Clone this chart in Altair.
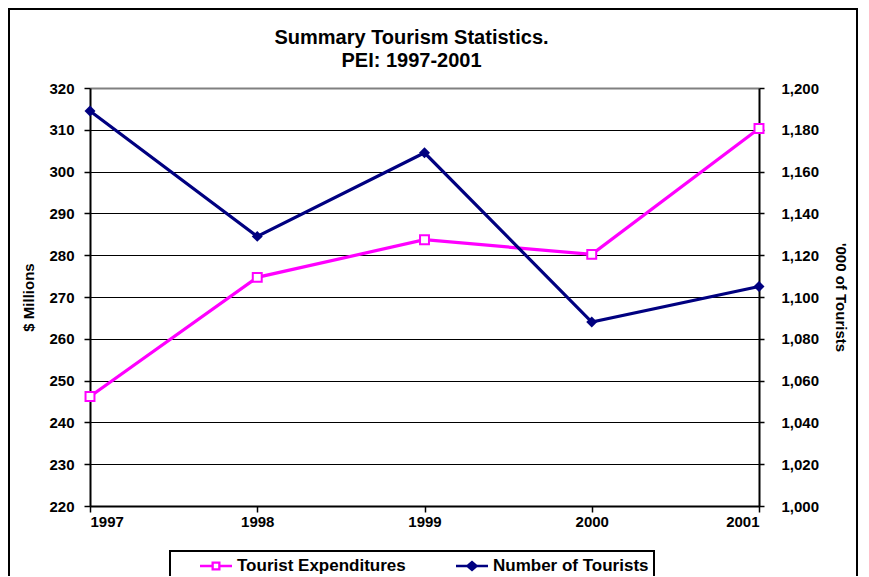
import altair as alt
import pandas as pd

years = [1997, 1998, 1999, 2000, 2001]
expenditures = [246.2, 274.7, 283.7, 280.2, 310.3]
tourists = [1189, 1129, 1169, 1088, 1105]
series_names = ["Tourist Expenditures", "Number of Tourists"]
left_ticks = [220, 230, 240, 250, 260, 270, 280, 290, 300, 310, 320]
right_ticks = [1000, 1020, 1040, 1060, 1080, 1100, 1120, 1140, 1160, 1180, 1200]

FONT = "Liberation Sans"
MAGENTA = "#FF00FF"
NAVY = "#000080"

# legend symbols: line segment with marker (open square / filled diamond)
LEG_SQUARE = ("M-1.6,-0.13H-0.45V-0.45H0.45V-0.13H1.6V0.13H0.45V0.45H-0.45V0.13H-1.6Z "
              "M-0.22,-0.22V0.22H0.22V-0.22Z")
LEG_DIAMOND = "M-1.6,-0.13H-0.5L0,-0.55L0.5,-0.13H1.6V0.13H0.5L0,0.55L-0.5,0.13H-1.6Z"

df_exp = pd.DataFrame({"year": years, "series": series_names[0], "value": expenditures})
df_tou = pd.DataFrame({"year": years, "series": series_names[1], "value": tourists})

color_scale = alt.Scale(domain=series_names, range=[MAGENTA, NAVY])
shape_scale = alt.Scale(domain=series_names, range=[LEG_SQUARE, LEG_DIAMOND])

x_enc = alt.X(
    "year:Q",
    scale=alt.Scale(domain=[1997, 2001], nice=False, zero=False),
    axis=alt.Axis(values=years, format="d", title=None, grid=False,
                  labelPadding=2, tickSize=6),
)

y_left = alt.Y(
    "value:Q",
    scale=alt.Scale(domain=[220, 320], nice=False, zero=False),
    axis=alt.Axis(values=left_ticks, title="$ Millions", orient="left", grid=True,
                  gridColor={"condition": {"test": "datum.value === 320", "value": "#808080"}, "value": "black"},
                  gridWidth={"condition": {"test": "datum.value === 320", "value": 2}, "value": 1},
                  tickSize=6, labelPadding=10, titlePadding=12),
)
y_right = alt.Y(
    "value:Q",
    scale=alt.Scale(domain=[1000, 1200], nice=False, zero=False),
    axis=alt.Axis(values=right_ticks, title="'000 of Tourists", orient="right", grid=False,
                  format=",d", tickSize=5, labelPadding=17, titlePadding=14),
)

line_l = alt.Chart(df_exp).mark_line(strokeWidth=3.2, color=MAGENTA).encode(x=x_enc, y=y_left)
pts_l = alt.Chart(df_exp).mark_point(shape="square", filled=False, fill="white", fillOpacity=1,
                                     color=MAGENTA, size=80, strokeWidth=2, opacity=1).encode(
    x=x_enc, y=y_left)
left = alt.layer(line_l, pts_l)

line_r = alt.Chart(df_tou).mark_line(strokeWidth=3.2, color=NAVY).encode(x=x_enc, y=y_right)
pts_r = alt.Chart(df_tou).mark_point(shape="diamond", filled=True, color=NAVY, size=120,
                                     opacity=1).encode(x=x_enc, y=y_right)
right = alt.layer(line_r, pts_r)

# legend-only layer (no rows drawn; entries come from the explicit scale domains)
legend_layer = alt.Chart(df_exp).transform_filter("false").mark_point(
    filled=True, opacity=1).encode(
    color=alt.Color("series:N", scale=color_scale, title=None,
                    legend=alt.Legend(orient="none", legendX=80, legendY=463,
                                      direction="horizontal", columns=2)),
    shape=alt.Shape("series:N", scale=shape_scale, title=None),
)

border = alt.Chart(pd.DataFrame({"a": [0]})).mark_rect(
    fill="white", fillOpacity=0, stroke="black", strokeWidth=2).encode(
    x=alt.value(-81), x2=alt.value(767), y=alt.value(-79), y2=alt.value(560))

chart = alt.layer(border, left, right, legend_layer).resolve_scale(y="independent").properties(
    width=669, height=418,
    autosize=alt.AutoSizeParams(type="none"),
    padding={"left": 82, "top": 80, "right": 102, "bottom": 70},
    title=alt.TitleParams(
        text=["Summary Tourism Statistics.", "PEI: 1997-2001"],
        font=FONT, fontSize=20, fontWeight="bold", color="black",
        anchor="middle", dx=-13, offset=0, dy=63, lineHeight=23, frame="group",
    ),
).configure_view(strokeOpacity=0).configure_axis(
    labelFont=FONT, labelFontSize=15, labelFontWeight="bold", labelColor="black",
    titleFont=FONT, titleFontSize=15, titleFontWeight="bold", titleColor="black",
    domainColor="black", domainWidth=2, tickColor="black", tickWidth=1.5,
).configure_legend(
    labelFont=FONT, labelFontSize=17, labelFontWeight="bold", labelColor="black",
    strokeColor="black", strokeWidth=2, fillColor="white", padding=5,
    symbolOffset=31, columnPadding=25, symbolSize=400, symbolStrokeWidth=0,
    labelOffset=11, labelLimit=300, gridAlign="all",
)

chart.save("out.html", embed_options={"renderer": "svg", "actions": False})
